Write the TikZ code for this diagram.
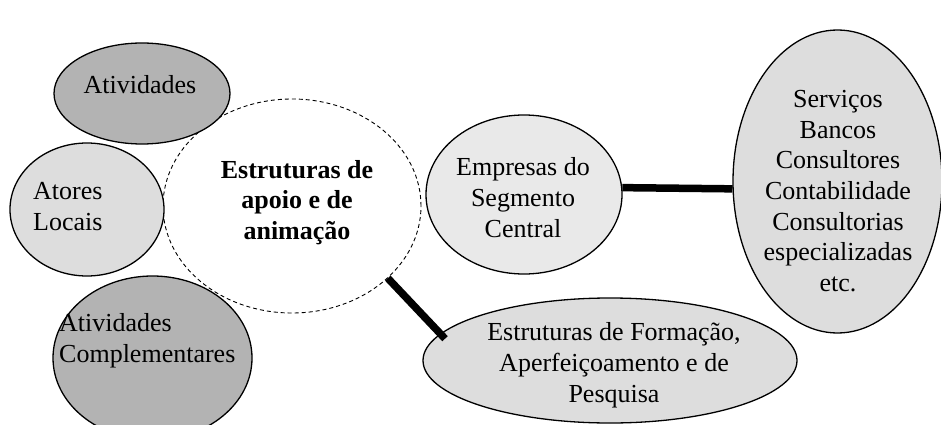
\documentclass[tikz,border=0pt]{standalone}
\usepackage{fontspec}
\setmainfont{Liberation Serif}
\usetikzlibrary{shapes.geometric,calc}
\definecolor{darkfill}{HTML}{B3B3B3}
\definecolor{lightfill}{HTML}{DDDDDD}
\definecolor{paleFill}{HTML}{E9E9E9}
\begin{document}
\begin{tikzpicture}[x=1pt,y=-1pt,
  bub/.style={ellipse,draw=black,line width=1.3pt,inner sep=0pt},
  lbl/.style={font=\fontsize{26}{30.7}\selectfont,inner sep=0pt},
  link/.style={line width=7.5pt,black}]
\useasboundingbox (0,0) rectangle (941,425);
% ellipses
\node[bub,dashed,draw=black,line width=0.9pt,dash pattern=on 4pt off 3pt,fill=white,minimum width=258pt,minimum height=214pt] (cent) at (292,206) {};
\node[bub,fill=darkfill,minimum width=176pt,minimum height=101pt] (act) at (142,93.5) {};
\node[bub,fill=lightfill,minimum width=154pt,minimum height=133pt] (ator) at (87,209.5) {};
\node[bub,fill=darkfill,minimum width=199pt,minimum height=164pt] (comp) at (152.5,358) {};
\node[bub,fill=paleFill,minimum width=196pt,minimum height=159pt] (emp) at (524,194.5) {};
\node[bub,fill=lightfill,minimum width=209pt,minimum height=303pt] (serv) at (837.5,181.5) {};
\node[bub,fill=lightfill,minimum width=374pt,minimum height=125pt] (estr) at (610,360.5) {};
% texts (anchor at the baseline of the last line)
\node[lbl,anchor=base] (tact) at (140,94) {Atividades};
\node[lbl,anchor=base west,align=left] (tator) at (33,230) {Atores\\Locais};
\node[lbl,anchor=base west,align=left] (tcomp) at (59,362) {Atividades\\Complementares};
\node[lbl,anchor=base,align=center,font=\fontsize{26}{30.5}\selectfont\bfseries] (tcent) at (297,239) {Estruturas de\\apoio e de\\animação};
\node[lbl,anchor=base,align=center] (temp) at (523,237) {Empresas do\\Segmento\\Central};
\node[lbl,anchor=base,align=center] (tserv) at (838,291.5) {Serviços\\Bancos\\Consultores\\Contabilidade\\Consultorias\\especializadas\\etc.};
\node[lbl,anchor=base,align=center] (testr) at (614,402) {Estruturas de Formação,\\Aperfeiçoamento e de\\Pesquisa};
% connectors
\draw[link] (emp.4) -- (serv.184);
\draw[link,shorten >=-7pt] (cent.-37.6) -- (estr.171);
\end{tikzpicture}
\end{document}
